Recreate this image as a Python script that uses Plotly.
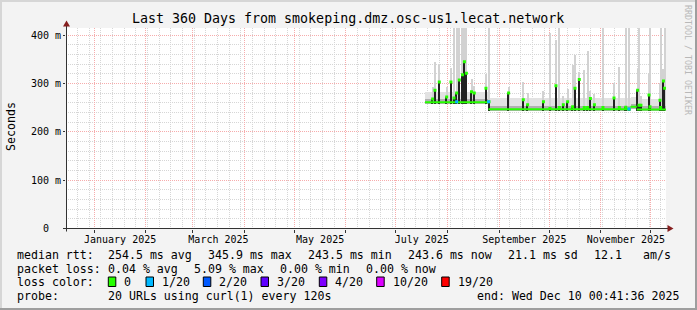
import pandas as pd
import plotly.graph_objects as go

# ---------------- data ----------------
title_text = "Last 360 Days from smokeping.dmz.osc-us1.lecat.network"
x_start = "2024-12-15 00:41:36"
x_end = "2025-12-10 00:41:36"

grid_months = ["2025-01-01", "2025-02-01", "2025-03-01", "2025-04-01", "2025-05-01", "2025-06-01",
               "2025-07-01", "2025-08-01", "2025-09-01", "2025-10-01", "2025-11-01", "2025-12-01"]
label_dates = ["2025-01-16 12:00", "2025-03-16 12:00", "2025-05-16 12:00",
               "2025-07-16 12:00", "2025-09-16 00:00", "2025-11-16 00:00"]
label_texts = ["January 2025", "March 2025", "May 2025", "July 2025", "September 2025", "November 2025"]
y_tick_vals = [0, 100, 200, 300, 400]
y_tick_text = ["0\u00a0\u00a0", "100 m", "200 m", "300 m", "400 m"]

# baseline periods (ms)
period_start = ["2025-07-18 10:00", "2025-08-25 12:00", "2025-11-18 18:00", "2025-11-22 12:00"]
period_end = ["2025-08-25 12:00", "2025-11-18 18:00", "2025-11-22 12:00", "2025-12-10 00:40"]
period_median = [261, 246.5, 252, 246]
period_dense = [267, 253, 258, 253]
period_smoke = [282, 270, 272, 268]
period_low = [257, 243, 248, 243]

# individual spikes (ms)
spike_dates = ["2025-07-23 00:00", "2025-07-24 10:00", "2025-07-27 00:00", "2025-07-31 10:00",
               "2025-08-03 00:00", "2025-08-04 20:00", "2025-08-06 10:00", "2025-08-08 00:00",
               "2025-08-09 22:00", "2025-08-11 02:00", "2025-08-12 06:00", "2025-08-15 08:00",
               "2025-08-17 00:00", "2025-08-24 00:00", "2025-08-25 20:00",
               "2025-09-06 14:00", "2025-09-15 10:00", "2025-09-18 00:00", "2025-09-27 12:00",
               "2025-10-01 10:00", "2025-10-05 00:00", "2025-10-07 00:00", "2025-10-09 10:00",
               "2025-10-12 00:00", "2025-10-15 00:00", "2025-10-16 10:00", "2025-10-19 00:00",
               "2025-10-22 00:00", "2025-10-24 00:00", "2025-10-25 16:00", "2025-10-28 02:00",
               "2025-11-02 05:00", "2025-11-08 20:00", "2025-11-12 00:00", "2025-11-15 20:00",
               "2025-11-17 20:00", "2025-11-23 00:00", "2025-11-23 20:00", "2025-11-25 00:00",
               "2025-11-29 20:00", "2025-11-30 10:00", "2025-12-06 10:00", "2025-12-06 20:00",
               "2025-12-08 12:00", "2025-12-09 05:00"]
spike_median = [268, 286, 303, 272,
                303, 270, 280, 307,
                318, 345, 321, 283,
                280, 290, 262,
                280, 266, 256, 262,
                248, 295, 250, 256,
                262, 252, 290, 308,
                250, 250, 269, 256,
                250, 270, 250, 251,
                247, 286, 255, 255,
                276, 252, 265, 250,
                305, 290]
spike_max = [292, 345, 338, 292,
             331, 500, 500, 500,
             500, 500, 500, 310,
             295, 320, 500,
             293, 303, 280, 285,
             405, 390, 500, 275,
             288, 338, 358, 324,
             328, 367, 285, 278,
             500, 300, 334, 500,
             500, 330, 500, 275,
             320, 500, 300, 500,
             330, 500]

loss_dates = ["2025-08-06 10:00", "2025-08-25 14:00", "2025-11-17 20:00"]
loss_values = [262, 262, 247]

rtt_stats = ["254.5 ms avg", "345.9 ms max", "243.5 ms min", "243.6 ms now", "21.1 ms sd", "12.1", "am/s"]
loss_stats = ["0.04 % avg", "5.09 % max", "0.00 % min", "0.00 % now"]
loss_labels = ["0", "1/20", "2/20", "3/20", "4/20", "10/20", "19/20"]
loss_colors = ["#26ff00", "#00b8ff", "#0059ff", "#5e00ff", "#7e00ff", "#dd00ff", "#ff0000"]
probe_text = "20 URLs using curl(1) every 120s"
end_text = "end: Wed Dec 10 00:41:36 2025"

# ---------------- layout helpers ----------------
W, H = 697, 310
MONO = "DejaVu Sans Mono"
GREEN = loss_colors[0]
DAY = 86400000


def px(x):
    return x / W


def py(y):
    return 1 - y / H


ps = pd.to_datetime(period_start)
pe = pd.to_datetime(period_end)
p_mid = ps + (pe - ps) / 2
p_width = [(b - a).total_seconds() * 1000 for a, b in zip(ps, pe)]

sd = pd.to_datetime(spike_dates)


def period_of(d):
    for i in range(len(ps)):
        if ps[i] <= d < pe[i]:
            return i
    return len(ps) - 1


sp_idx = [period_of(d) for d in sd]
dark_base = [period_median[i] - 3 for i in sp_idx]
gray_base = [period_dense[i] for i in sp_idx]

fig = go.Figure()

# light smoke
fig.add_trace(go.Bar(x=p_mid, y=[t - b for t, b in zip(period_smoke, period_low)], base=period_low,
                     width=p_width, marker=dict(color="#e2e2e2", line=dict(width=0))))
# grey spike lines
fig.add_trace(go.Bar(x=sd, y=[m - b for m, b in zip(spike_max, gray_base)], base=gray_base,
                     width=0.6 * DAY, marker=dict(color="#d2d2d2", line=dict(width=0))))
# dense smoke
fig.add_trace(go.Bar(x=p_mid, y=[t - b for t, b in zip(period_dense, period_low)], base=period_low,
                     width=p_width, marker=dict(color="#b0b0b0", line=dict(width=0))))
# dark spike bars
fig.add_trace(go.Bar(x=sd, y=[m - b for m, b in zip(spike_median, dark_base)], base=dark_base,
                     width=1.0 * DAY, marker=dict(color="#222222", line=dict(width=0))))
# median line for periods
mx, my = [], []
for a, b, m in zip(ps, pe, period_median):
    mx += [a, b, None]
    my += [m, m, None]
fig.add_trace(go.Scatter(x=mx, y=my, mode="lines", line=dict(color=GREEN, width=2)))
# median markers at spikes
fig.add_trace(go.Scatter(x=sd, y=spike_median, mode="markers",
                         marker=dict(color=GREEN, size=3, symbol="square", line=dict(width=0))))
# loss markers
fig.add_trace(go.Scatter(x=pd.to_datetime(loss_dates), y=loss_values, mode="markers",
                         marker=dict(color=loss_colors[1], size=3, symbol="square", line=dict(width=0))))

GRID = "#d6d6d6"
MGRID = "#f6acac"

shapes = []
# frame
shapes.append(dict(type="line", xref="paper", yref="paper", x0=0, x1=1, y0=py(1), y1=py(1),
                   line=dict(color="#d6d6d6", width=2)))
shapes.append(dict(type="line", xref="paper", yref="paper", x0=px(1), x1=px(1), y0=0, y1=1,
                   line=dict(color="#d6d6d6", width=2)))
shapes.append(dict(type="line", xref="paper", yref="paper", x0=0, x1=1, y0=py(309), y1=py(309),
                   line=dict(color="#9e9e9e", width=2)))
shapes.append(dict(type="line", xref="paper", yref="paper", x0=px(696), x1=px(696), y0=0, y1=1,
                   line=dict(color="#9e9e9e", width=2)))
# axes lines
shapes.append(dict(type="line", xref="paper", yref="paper", x0=px(66.5), x1=px(66.5), y0=py(231.5), y1=py(25),
                   line=dict(color="#333333", width=1)))
shapes.append(dict(type="line", xref="paper", yref="paper", x0=px(63), x1=px(668), y0=py(228.5), y1=py(228.5),
                   line=dict(color="#333333", width=1)))
# arrows
shapes.append(dict(type="path", xref="paper", yref="paper",
                   path=f"M {px(66.5)} {py(20.5)} L {px(63)} {py(26.5)} L {px(70)} {py(26.5)} Z",
                   fillcolor="#861f1f", line=dict(width=0)))
shapes.append(dict(type="path", xref="paper", yref="paper",
                   path=f"M {px(673.5)} {py(228.5)} L {px(667.5)} {py(225)} L {px(667.5)} {py(232)} Z",
                   fillcolor="#861f1f", line=dict(width=0)))
# loss colour squares
square_x = [108.3, 146, 203.3, 261, 319.3, 376.7, 441.7]
for sx, c in zip(square_x, loss_colors):
    shapes.append(dict(type="rect", xref="paper", yref="paper", x0=px(sx), x1=px(sx + 7.5),
                       y0=py(286.5), y1=py(277), fillcolor=c, line=dict(color="#000000", width=1)))

ann = []


def text(x, y, s, size=11.6, anchor="left", color="#000000", angle=0):
    ann.append(dict(x=px(x), y=py(y), xref="paper", yref="paper", text=s, showarrow=False,
                    xanchor=anchor, yanchor="middle", borderpad=0, textangle=angle,
                    font=dict(family=MONO, size=size, color=color)))


text(347.7, 19, title_text, size=13.3, anchor="center")
text(11, 127, "Seconds", size=11.6, anchor="center", angle=-90)
text(688, 60, "RRDTOOL / TOBI OETIKER", size=8.3, anchor="center", color="#b8b8b8", angle=90)

text(16, 254.5, "median rtt:")
for x, s in zip([107, 207.3, 306.7, 407.3, 507.3, 593.3, 642.3], rtt_stats):
    text(x, 254.5, s)
text(16, 268.5, "packet loss:")
for x, s in zip([107, 193.3, 279.3, 365], loss_stats):
    text(x, 268.5, s)
text(16, 282, "loss color:")
for sx, s in zip(square_x, loss_labels):
    text(sx + 15, 282, s)
text(16, 296, "probe:")
text(107, 296, probe_text)
text(680, 296, end_text, anchor="right")

fig.update_layout(
    width=W, height=H, autosize=False,
    margin=dict(l=0, r=0, t=0, b=0, pad=0, autoexpand=False),
    paper_bgcolor="#f3f3f3", plot_bgcolor="#ffffff",
    showlegend=False, barmode="overlay", bargap=0,
    xaxis=dict(type="date", range=[x_start, x_end], domain=[px(66), px(666)], anchor="y",
               tickmode="array", tickvals=grid_months, ticktext=[""] * len(grid_months),
               showticklabels=False, showgrid=True, gridcolor=MGRID, griddash="1px,1px", gridwidth=1,
               ticks="outside", ticklen=3, tickcolor="#333333", automargin=False,
               minor=dict(dtick=7 * DAY, tick0="2024-12-22", showgrid=True, gridcolor=GRID,
                          griddash="1px,1px", gridwidth=1, ticks=""),
               showline=False, zeroline=False, fixedrange=True),
    xaxis2=dict(type="date", range=[x_start, x_end], domain=[px(66), px(666)], anchor="y",
                overlaying="x", side="bottom", tickmode="array", tickvals=label_dates, ticktext=label_texts,
                showgrid=False, ticks="", ticklabelstandoff=3, showline=False, zeroline=False,
                automargin=False,
                tickfont=dict(family=MONO, size=10, color="#000000"), fixedrange=True),
    yaxis=dict(range=[0, 414.5], domain=[py(228.6), py(28)], tickmode="array",
               tickvals=y_tick_vals, ticktext=y_tick_text,
               showgrid=True, gridcolor=MGRID, griddash="1px,1px", gridwidth=1,
               minor=dict(dtick=20, showgrid=True, gridcolor=GRID, griddash="1px,1px", gridwidth=1, ticks=""),
               ticks="outside", ticklen=2, tickcolor="#333333", automargin=False,
               tickfont=dict(family=MONO, size=10, color="#000000"),
               showline=False, zeroline=False, fixedrange=True),
    shapes=shapes, annotations=ann,
)
# dummy trace to activate xaxis2
fig.add_trace(go.Scatter(x=[x_start], y=[None], xaxis="x2", yaxis="y", mode="markers", showlegend=False))

fig.write_html("out.html", config={"displayModeBar": False})
